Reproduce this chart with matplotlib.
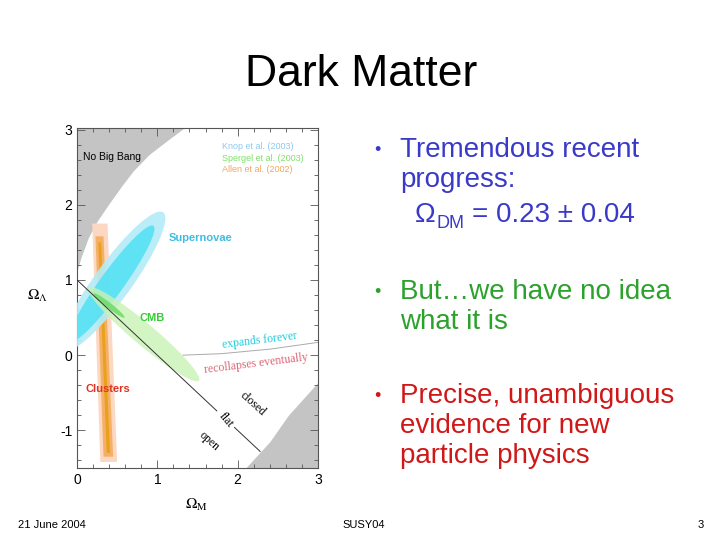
import numpy as np
import matplotlib
matplotlib.use("Agg")
import matplotlib.pyplot as plt
from matplotlib.patches import Ellipse
from matplotlib.ticker import MultipleLocator

plt.rcParams['font.family'] = ['Liberation Sans', 'DejaVu Sans']
plt.rcParams['mathtext.fontset'] = 'stix'
plt.rcParams['axes.unicode_minus'] = False

# --- data (Omega_M, Omega_Lambda) ---
# "No Big Bang" boundary, upper left
nbb_om = [0.0, 0.05, 0.14, 0.25, 0.39, 0.55, 0.70, 0.90, 1.12, 1.37]
nbb_ol = [1.12, 1.30, 1.56, 1.78, 2.00, 2.24, 2.45, 2.67, 2.85, 3.05]
# lower right excluded region
lr_om = [2.10, 2.40, 2.63, 3.00]
lr_ol = [-1.50, -1.15, -0.80, -0.36]
# flat universe line, broken where the "flat" label sits
flat_om = [[0.0, 1.74], [1.96, 2.28]]
# expands forever / recollapses boundary
exp_om = [1.32, 1.80, 2.40, 3.00]
exp_ol = [0.00, 0.02, 0.08, 0.17]

# confidence regions: (centre, full length, full width, angle)
sn_regions = [((0.45, 0.98), 2.22, 0.47, 56), ((0.43, 0.95), 1.86, 0.30, 56)]
cmb_regions = [((0.83, 0.28), 1.85, 0.28, -42), ((0.40, 0.66), 0.50, 0.07, -40)]
# cluster bands: x at (top left, top right, bottom right, bottom left), top, bottom
cl_bands = [((0.19, 0.38, 0.50, 0.29), 1.75, -1.42),
            ((0.23, 0.33, 0.45, 0.33), 1.58, -1.35),
            ((0.265, 0.30, 0.41, 0.37), 1.50, -1.30)]

sn_colors = ['#b3ecf8', '#55e1f3']
cmb_colors = ['#c9f2b4', '#6ad862']
cl_colors = ['#fcd8c2', '#f5b068', '#e9a01a']

bullets = [
    (['Tremendous recent', 'progress:'], '#3a3ac8', 157),
    (['But\u2026we have no idea', 'what it is'], '#2ca22c', 299),
    (['Precise, unambiguous', 'evidence for new', 'particle physics'], '#d01818', 403),
]

fig = plt.figure(figsize=(7.2, 5.4), dpi=100)
W, H = 720.0, 540.0

def fy(py):
    return 1 - py / H

fig.text(361 / W, fy(86), 'Dark Matter', fontsize=32, ha='center', va='baseline')

ax = fig.add_axes([77 / W, 1 - 468 / H, 241 / W, 340 / H])
ax.set_xlim(0, 3)
ax.set_ylim(-1.5, 3.02)

ax.fill_between(nbb_om, nbb_ol, 3.2, color='#c4c4c4', lw=0, zorder=1)
ax.fill_between(lr_om, lr_ol, -1.6, color='#c4c4c4', lw=0, zorder=1)

for (xs, top, bot), c in zip(cl_bands, cl_colors):
    ax.fill([xs[0], xs[1], xs[2], xs[3]], [top, top, bot, bot], color=c, lw=0, zorder=2)

for (c0, w, h, a), col in zip(sn_regions, sn_colors):
    ax.add_patch(Ellipse(c0, w, h, angle=a, color=col, lw=0, alpha=0.9, zorder=3))
for (c0, w, h, a), col in zip(cmb_regions, cmb_colors):
    ax.add_patch(Ellipse(c0, w, h, angle=a, color=col, lw=0, alpha=0.8, zorder=4))

for seg in flat_om:
    s = np.array(seg)
    ax.plot(s, 1 - s, color='#333333', lw=0.7, zorder=5)
ax.plot(exp_om, exp_ol, color='#aaaaaa', lw=0.7, zorder=5)

ax.text(0.075, 2.64, 'No Big Bang', fontsize=7.5, va='center', zorder=6)
ax.text(1.81, 2.77, 'Knop et al. (2003)', fontsize=6.5, color='#8cc8f0', va='center', zorder=6)
ax.text(1.81, 2.61, 'Spergel et al. (2003)', fontsize=6.5, color='#7fe06c', va='center', zorder=6)
ax.text(1.81, 2.47, 'Allen et al. (2002)', fontsize=6.5, color='#f0a860', va='center', zorder=6)
ax.text(1.14, 1.56, 'Supernovae', fontsize=8, weight='bold', color='#3fbde0', va='center', zorder=6)
ax.text(0.78, 0.50, 'CMB', fontsize=8, weight='bold', color='#33cc33', va='center', zorder=6)
ax.text(0.11, -0.45, 'Clusters', fontsize=8, weight='bold', color='#dd3322', va='center', zorder=6)

serif = ['Liberation Serif', 'DejaVu Serif']
ax.text(2.28, 0.19, 'expands forever', family=serif, fontsize=8.5, color='#22ccdd',
        rotation=7, ha='center', va='center', zorder=6)
ax.text(2.23, -0.11, 'recollapses eventually', family=serif, fontsize=8.5, color='#dd6677',
        rotation=7, ha='center', va='center', zorder=6)
ax.text(2.19, -0.64, 'closed', family=serif, fontsize=8.5, rotation=-42,
        ha='center', va='center', zorder=6)
ax.text(1.85, -0.86, 'flat', family=serif, fontsize=8.5, rotation=-50,
        ha='center', va='center', zorder=6)
ax.text(1.64, -1.14, 'open', family=serif, fontsize=8.5, rotation=-42,
        ha='center', va='center', zorder=6)

ax.xaxis.set_major_locator(MultipleLocator(1))
ax.xaxis.set_minor_locator(MultipleLocator(0.2))
ax.yaxis.set_major_locator(MultipleLocator(1))
ax.yaxis.set_minor_locator(MultipleLocator(0.2))
ax.tick_params(which='both', direction='in', top=True, right=True, labelsize=10,
               color='#555555', width=0.6)
ax.tick_params(which='major', length=6)
ax.tick_params(which='minor', length=3)
for sp in ax.spines.values():
    sp.set_color('#555555')
    sp.set_linewidth(0.8)
ax.set_xticks([0, 1, 2, 3])
ax.set_yticks([-1, 0, 1, 2, 3])

fig.text(37 / W, fy(296), r'$\Omega_\Lambda$', fontsize=11, ha='center', va='center')
fig.text(196 / W, fy(505), r'$\Omega_{\mathrm{M}}$', fontsize=11, ha='center', va='center')

# bullet text on the right
for lines, col, base in bullets:
    fig.text(374 / W, fy(base - 2), '\u2022', fontsize=13, color=col, va='baseline')
    for i, ln in enumerate(lines):
        fig.text(400 / W, fy(base + 30 * i), ln, fontsize=20, color=col, va='baseline')

blue = bullets[0][1]
fig.text(415 / W, fy(222), '\u03a9', fontsize=20, color=blue, va='baseline')
fig.text(437 / W, fy(228), 'DM', fontsize=13, color=blue, va='baseline')
fig.text(472 / W, fy(222), '= 0.23 \u00b1 0.04', fontsize=20, color=blue, va='baseline')

fig.text(18 / W, fy(528), '21 June 2004', fontsize=8, va='baseline')
fig.text(364 / W, fy(528), 'SUSY04', fontsize=8, ha='center', va='baseline')
fig.text(704 / W, fy(528), '3', fontsize=8, ha='right', va='baseline')

fig.savefig('out.png', dpi=100)
